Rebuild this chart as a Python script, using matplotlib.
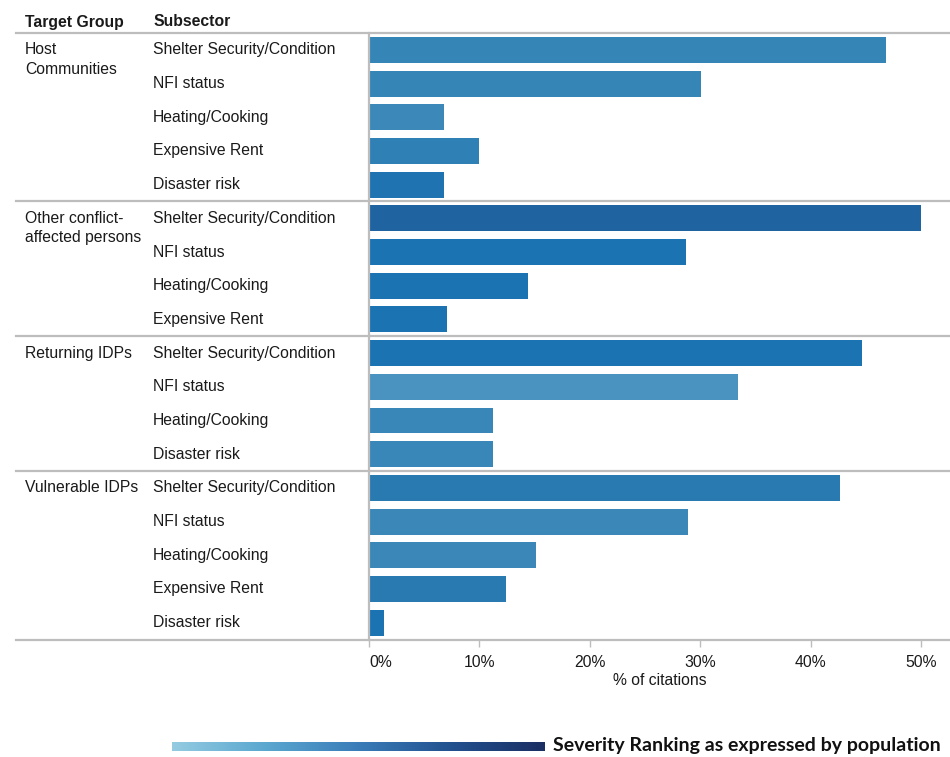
import matplotlib
matplotlib.use("Agg")
import matplotlib.pyplot as plt
import numpy as np
from matplotlib.colors import LinearSegmentedColormap
import matplotlib.transforms as mtransforms

# --- data -------------------------------------------------------------
groups = ["Host\nCommunities", "Other conflict-\naffected persons",
          "Returning IDPs", "Vulnerable IDPs"]

host_subsectors = ["Shelter Security/Condition", "NFI status", "Heating/Cooking",
                   "Expensive Rent", "Disaster risk"]
host_values = [46.8, 30.1, 6.8, 10.0, 6.8]

other_subsectors = ["Shelter Security/Condition", "NFI status", "Heating/Cooking",
                    "Expensive Rent"]
other_values = [50.0, 28.7, 14.4, 7.1]

returning_subsectors = ["Shelter Security/Condition", "NFI status", "Heating/Cooking",
                        "Disaster risk"]
returning_values = [44.6, 33.4, 11.2, 11.2]

vulnerable_subsectors = ["Shelter Security/Condition", "NFI status", "Heating/Cooking",
                         "Expensive Rent", "Disaster risk"]
vulnerable_values = [42.6, 28.9, 15.1, 12.4, 1.4]

# bar shading by severity ranking
host_colors = ["#3585b7", "#3585b7", "#3b88b9", "#2f81b5", "#1e73b0"]
other_colors = ["#1f64a0", "#1c73b1", "#1c73b1", "#1c73b1"]
returning_colors = ["#1c73b1", "#4a93c0", "#3986b8", "#3986b8"]
vulnerable_colors = ["#2a7ab2", "#3a87b8", "#3a87b8", "#2a7ab2", "#1c73b1"]

x_ticks = [0, 10, 20, 30, 40, 50]
x_ticklabels = ["0%", "10%", "20%", "30%", "40%", "50%"]

# --- assemble rows ----------------------------------------------------
blocks = [
    (groups[0], host_subsectors, host_values, host_colors),
    (groups[1], other_subsectors, other_values, other_colors),
    (groups[2], returning_subsectors, returning_values, returning_colors),
    (groups[3], vulnerable_subsectors, vulnerable_values, vulnerable_colors),
]

plt.rcParams["font.family"] = ["Liberation Sans", "DejaVu Sans"]
TXT = "#1a1a1a"
GRID = "#bdbdbd"
FS = 11.3

W, H = 950, 757
fig = plt.figure(figsize=(W / 100, H / 100), dpi=100)

ax_left = 369 / W
ax_top = 1 - 33 / H
ax_bot = 1 - 639.5 / H
ax = fig.add_axes([ax_left, ax_bot, 1 - ax_left, ax_top - ax_bot])

n_rows = sum(len(b[1]) for b in blocks)
ax.set_ylim(n_rows - 0.5, -0.5)
ax.set_xlim(0, 52.6)

blend = mtransforms.blended_transform_factory(fig.transFigure, ax.transData)

row = 0
for gi, (gname, subs, vals, cols) in enumerate(blocks):
    ys = np.arange(row, row + len(subs))
    ax.barh(ys, vals, height=0.77, color=cols, zorder=2)
    for li, line in enumerate(gname.split("\n")):
        ax.text(25 / W, row + li * 0.57, line, transform=blend, ha="left",
                va="center", fontsize=FS, color=TXT)
    for y, s in zip(ys, subs):
        ax.text(153 / W, y, s, transform=blend, ha="left", va="center",
                fontsize=FS, color=TXT)
    # separator above each group
    ax.plot([16 / W, 1.0], [row - 0.5, row - 0.5], transform=blend,
            color=GRID, lw=1.6, clip_on=False, zorder=3)
    row += len(subs)
# closing line below the last group
ax.plot([16 / W, 1.0], [row - 0.5, row - 0.5], transform=blend,
        color=GRID, lw=1.6, clip_on=False, zorder=3)

# column headers
fig.text(25 / W, 1 - 22 / H, "Target Group", fontsize=FS, fontweight="bold",
         color=TXT, ha="left", va="center")
fig.text(153 / W, 1 - 22 / H, "Subsector", fontsize=FS, fontweight="bold",
         color=TXT, ha="left", va="center")

# axes styling
for side in ["top", "right", "bottom"]:
    ax.spines[side].set_visible(False)
ax.spines["left"].set_color(GRID)
ax.spines["left"].set_linewidth(1.6)
ax.set_yticks([])
ax.set_xticks(x_ticks)
ax.set_xticklabels(x_ticklabels)
ax.tick_params(axis="x", length=5, width=1, color=GRID, labelsize=FS,
               labelcolor=TXT, pad=6)
ax.get_xticklabels()[0].set_horizontalalignment("left")
ax.set_xlabel("% of citations", fontsize=FS, color=TXT, labelpad=2)

# severity colour ramp
ramp = LinearSegmentedColormap.from_list(
    "severity", ["#94cbe1", "#5aa7d0", "#3a7cb8", "#22518f", "#1b2f63"])
gax = fig.add_axes([172 / W, 1 - 751 / H, (545 - 172) / W, 9 / H])
gax.imshow(np.linspace(0, 1, 256)[None, :], aspect="auto", cmap=ramp)
gax.set_axis_off()
fig.text(553 / W, 1 - 746 / H, "Severity Ranking as expressed by population",
         fontsize=14, fontweight="bold", family=["Lato", "DejaVu Sans"],
         color="#111111", ha="left", va="center")

fig.savefig("out.png", dpi=100)
